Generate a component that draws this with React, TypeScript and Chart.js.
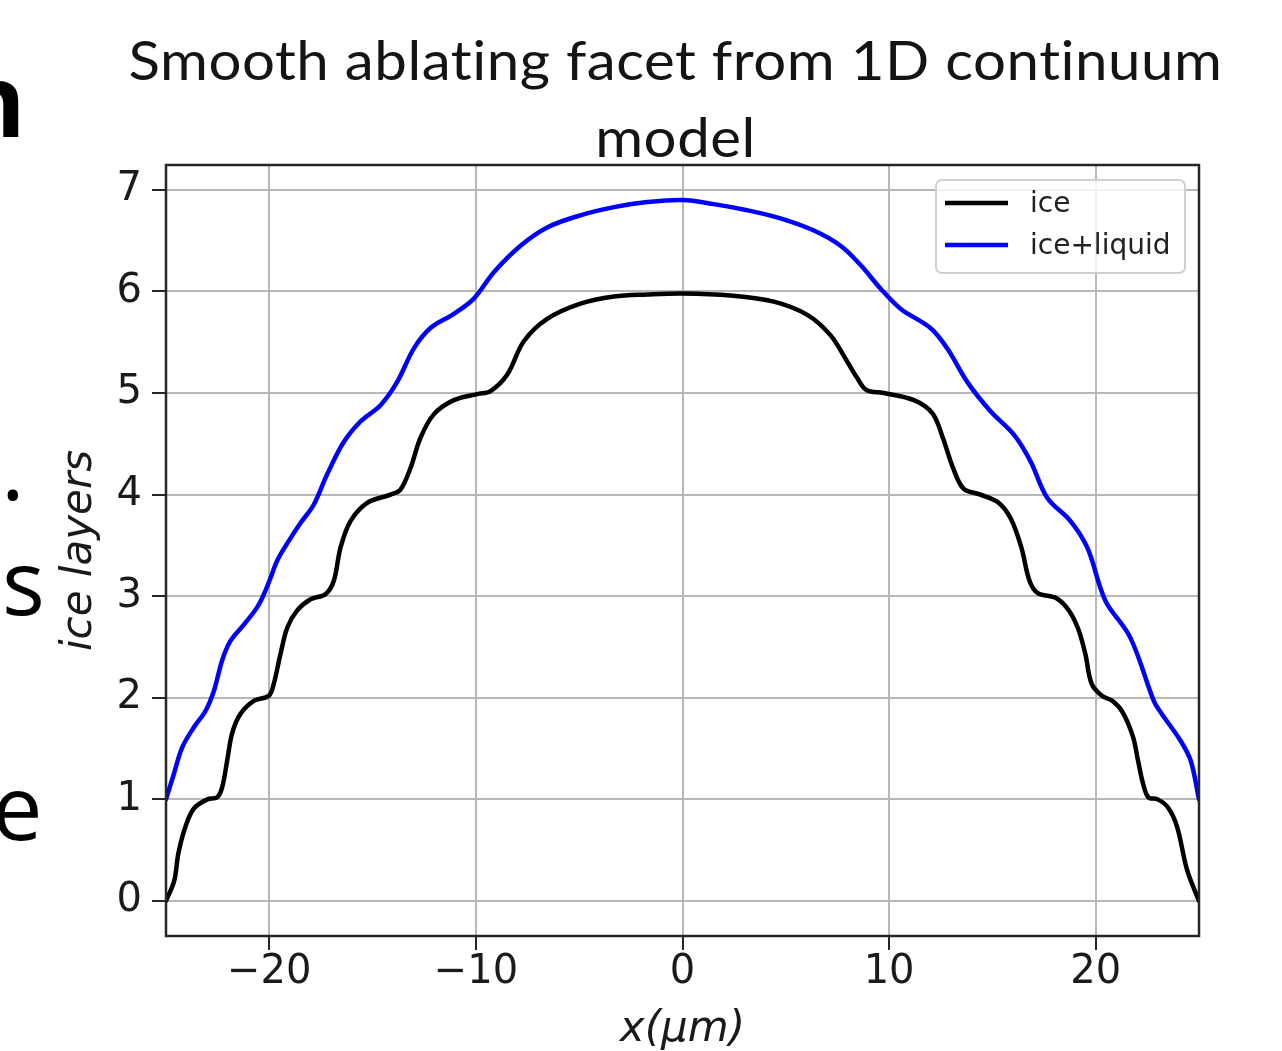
import React, { useEffect, useRef } from "react";
import { Chart, registerables } from "chart.js";

Chart.register(...registerables);

// ---- data ----
const iceX = [
  -25, -24.6, -24.4, -24.06, -23.65, -23.0, -22.52, -22.28, -22.04, -21.8, -21.4, -20.75,
  -20.02, -19.78, -19.46, -19.13, -18.65, -18.0, -17.28, -16.88, -16.55, -16.07, -15.26,
  -14.13, -13.65, -13.17, -12.68, -12.04, -11.07, -9.94, -9.29, -8.49, -7.68, -6.55, -4.94,
  -3.32, -1.71, 0, 2.32, 4.42, 6.04, 7.16, 7.97, 8.45, 8.9, 9.74, 11.2, 12.1, 12.6, 13.1,
  13.6, 14.42, 15.3, 15.9, 16.4, 16.8, 17.2, 18.1, 18.7, 19.15, 19.5, 19.8, 20.3, 20.8,
  21.3, 21.8, 22.05, 22.3, 22.55, 23.0, 23.5, 23.94, 24.43, 25,
];
const iceY = [
  0, 0.2, 0.47, 0.73, 0.91, 1.0, 1.02, 1.12, 1.38, 1.65, 1.84, 1.97,
  2.02, 2.14, 2.43, 2.69, 2.86, 2.97, 3.02, 3.15, 3.48, 3.74, 3.92,
  4.0, 4.05, 4.26, 4.56, 4.79, 4.93, 4.99, 5.02, 5.18, 5.51, 5.73, 5.88,
  5.95, 5.97, 5.98, 5.96, 5.9, 5.77, 5.57, 5.31, 5.15, 5.03, 5.0, 4.93, 4.8, 4.56, 4.26,
  4.06, 4.0, 3.92, 3.76, 3.48, 3.15, 3.03, 2.98, 2.86, 2.68, 2.43, 2.14, 2.02, 1.97,
  1.86, 1.62, 1.38, 1.15, 1.02, 1.0, 0.92, 0.73, 0.3, 0,
];
const liquidX = [
  -25, -24.62, -24.22, -23.65, -23.09, -22.68, -22.28, -21.88, -21.23, -20.59, -20.26,
  -19.94, -19.62, -19.07, -18.49, -17.85, -17.2, -16.39, -15.59, -14.62, -13.81, -13.0,
  -12.2, -11.07, -10.1, -9.13, -7.84, -6.55, -4.94, -3.32, -1.71, 0, 1.52, 3.13, 4.74,
  6.36, 7.65, 8.62, 9.58, 10.55, 12.0, 12.81, 13.78, 14.91, 16.04, 16.84, 17.65, 18.78,
  19.59, 20.23, 20.56, 21.68, 22.81, 23.1, 24.1, 24.6, 25,
];
const liquidY = [
  1.0, 1.25, 1.51, 1.71, 1.87, 2.07, 2.37, 2.56, 2.72, 2.89, 3.02,
  3.18, 3.35, 3.54, 3.72, 3.9, 4.2, 4.52, 4.72, 4.88, 5.11, 5.44,
  5.64, 5.78, 5.93, 6.19, 6.45, 6.63, 6.75, 6.83, 6.88, 6.9, 6.86, 6.8, 6.72,
  6.6, 6.45, 6.26, 6.03, 5.83, 5.64, 5.44, 5.11, 4.82, 4.59, 4.33, 3.97, 3.74,
  3.48, 3.08, 2.92, 2.59, 1.97, 1.87, 1.58, 1.38, 1.0,
];
const seriesLabels = ["ice", "ice+liquid"];
const xTicks = [-20, -10, 0, 10, 20];
const yTicks = [0, 1, 2, 3, 4, 5, 6, 7];
const titleLines = ["Smooth ablating facet from 1D continuum", "model"];
const xTitle = "x(\u03bcm)";
const yTitle = "ice layers";

const toPoints = (xs: number[], ys: number[]) => xs.map((x, i) => ({ x, y: ys[i] }));

const framePlugin = {
  id: "frame",
  afterDatasetsDraw(chart: any) {
    const { ctx, chartArea: a } = chart;
    ctx.save();
    ctx.strokeStyle = "#262626";
    ctx.lineWidth = 2.5;
    ctx.strokeRect(a.left, a.top, a.right - a.left, a.bottom - a.top);
    ctx.restore();
  },
};

const titlePlugin = {
  id: "bigTitle",
  afterDraw(chart: any) {
    const { ctx, chartArea: a } = chart;
    ctx.save();
    ctx.font = "54px Lato";
    try {
      (ctx as any).letterSpacing = "0.5px";
    } catch (e) {}
    ctx.fillStyle = "#141414";
    ctx.textAlign = "center";
    ctx.textBaseline = "alphabetic";
    const w = ctx.measureText(titleLines[0]).width;
    const sx = 1094 / w;
    ctx.translate((a.left + a.right) / 2 - 7, 0);
    ctx.scale(sx, 1);
    ctx.fillText(titleLines[0], 0, 80);
    ctx.fillText(titleLines[1], 0, 157);
    ctx.restore();
  },
};

const legendPlugin = {
  id: "boxLegend",
  afterDraw(chart: any) {
    const { ctx, chartArea: a } = chart;
    const bw = 249;
    const bh = 93;
    const x0 = a.right - 14 - bw;
    const y0 = a.top + 15;
    ctx.save();
    ctx.beginPath();
    ctx.roundRect(x0, y0, bw, bh, 6);
    ctx.fillStyle = "rgba(255,255,255,0.8)";
    ctx.fill();
    ctx.strokeStyle = "#d0d0d0";
    ctx.lineWidth = 2;
    ctx.stroke();
    chart.data.datasets.forEach((ds: any, i: number) => {
      const y = y0 + 23 + i * 42;
      ctx.beginPath();
      ctx.moveTo(x0 + 9, y);
      ctx.lineTo(x0 + 72, y);
      ctx.strokeStyle = ds.borderColor;
      ctx.lineWidth = 4.5;
      ctx.stroke();
      ctx.font = "28px 'DejaVu Sans'";
      ctx.fillStyle = "#222";
      ctx.textAlign = "left";
      ctx.textBaseline = "middle";
      ctx.fillText(ds.label, x0 + 94, y + 2);
    });
    ctx.restore();
  },
};

export default function App() {
  const ref = useRef<HTMLCanvasElement>(null);

  useEffect(() => {
    document.body.style.margin = "0";
    const chart = new Chart(ref.current as HTMLCanvasElement, {
      type: "line",
      data: {
        datasets: [
          {
            label: seriesLabels[0],
            data: toPoints(iceX, iceY),
            borderColor: "#000000",
            borderWidth: 4.5,
            pointRadius: 0,
            tension: 0.35,
            borderJoinStyle: "round",
            borderCapStyle: "round",
            fill: false,
          },
          {
            label: seriesLabels[1],
            data: toPoints(liquidX, liquidY),
            borderColor: "#0000ff",
            borderWidth: 4.5,
            pointRadius: 0,
            tension: 0.35,
            borderJoinStyle: "round",
            borderCapStyle: "round",
            fill: false,
          },
        ],
      },
      options: {
        animation: false,
        responsive: false,
        layout: { padding: { top: 165, right: 83, left: 0, bottom: 0 } },
        plugins: {
          legend: { display: false },
          title: { display: false },
          tooltip: { enabled: false },
        },
        scales: {
          x: {
            type: "linear",
            min: -25,
            max: 25,
            afterBuildTicks: (s: any) => {
              s.ticks = xTicks.map((v) => ({ value: v }));
            },
            afterFit: (s: any) => {
              s.height = 115;
            },
            grid: {
              color: "#b8b8b8",
              lineWidth: 2,
              tickColor: "#262626",
              tickLength: 14,
              tickWidth: 2,
            },
            border: { display: false },
            ticks: {
              color: "#1a1a1a",
              padding: 3,
              maxRotation: 0,
              font: { family: "'DejaVu Sans'", size: 40, lineHeight: 1 },
              callback: (v: any) => (v < 0 ? "\u2212" + Math.abs(v) : String(v)),
            },
            title: {
              display: true,
              text: xTitle,
              color: "#1a1a1a",
              font: { family: "'DejaVu Sans'", size: 42, style: "italic", lineHeight: 1 },
              padding: { top: 0, bottom: 0 },
            },
          },
          y: {
            type: "linear",
            min: -0.345,
            max: 7.245,
            afterBuildTicks: (s: any) => {
              s.ticks = yTicks.map((v) => ({ value: v }));
            },
            afterFit: (s: any) => {
              s.width = 166;
            },
            grid: {
              color: "#b8b8b8",
              lineWidth: 2,
              tickColor: "#262626",
              tickLength: 14,
              tickWidth: 2,
            },
            border: { display: false },
            ticks: {
              color: "#1a1a1a",
              padding: 10,
              font: { family: "'DejaVu Sans'", size: 40, lineHeight: 1 },
            },
            title: {
              display: true,
              text: yTitle,
              color: "#1a1a1a",
              font: { family: "'DejaVu Sans'", size: 42, style: "italic", lineHeight: 1 },
              padding: { top: 59, bottom: 0 },
            },
          },
        },
      },
      plugins: [framePlugin, titlePlugin, legendPlugin],
    } as any);
    return () => chart.destroy();
  }, []);

  const side: React.CSSProperties = {
    position: "absolute",
    fontFamily: "'Open Sans', sans-serif",
    lineHeight: 1,
    color: "#000",
    whiteSpace: "pre",
  };

  return (
    <div
      style={{
        position: "relative",
        width: 1282,
        height: 1051,
        overflow: "hidden",
        background: "#ffffff",
      }}
    >
      <canvas
        ref={ref}
        width={1282}
        height={1051}
        style={{ position: "absolute", left: 0, top: 0, width: 1282, height: 1051 }}
      />
      <span style={{ ...side, left: -40, top: 48, fontSize: 100, fontWeight: 700 }}>n</span>
      <span style={{ ...side, left: 1, top: 420, fontSize: 90 }}>.</span>
      <span style={{ ...side, left: 2, top: 535, fontSize: 90 }}>s</span>
      <span style={{ ...side, left: -8, top: 760, fontSize: 90 }}>e</span>
    </div>
  );
}
